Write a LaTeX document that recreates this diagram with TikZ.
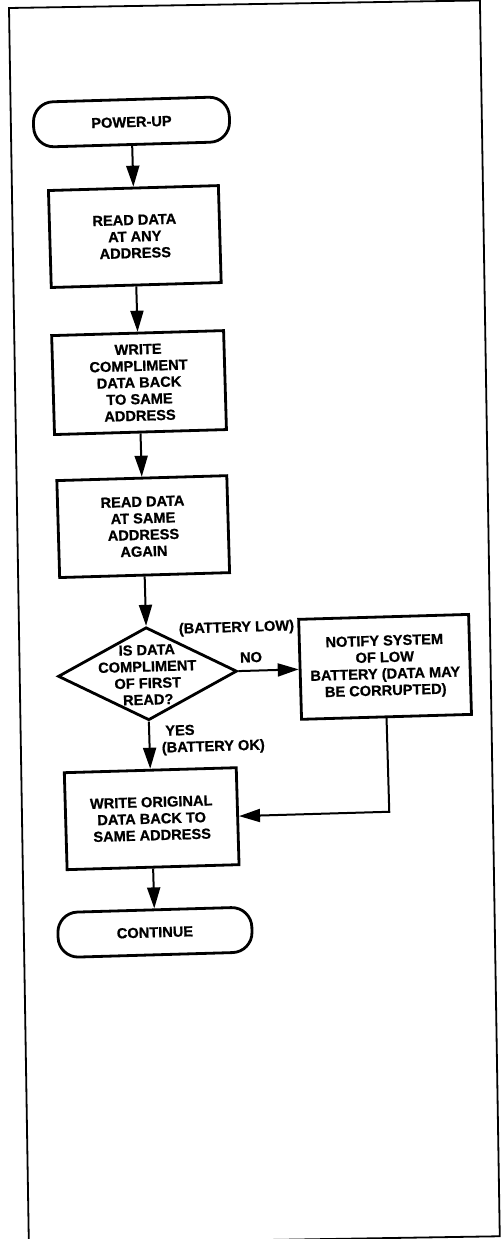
\documentclass[tikz,border=0pt]{standalone}
\usepackage{fontspec}
\setmainfont{Liberation Sans}
\newfontfamily\heavyfont[FakeBold=0.8]{Liberation Sans}
\usetikzlibrary{arrows.meta,shapes.geometric}
\begin{document}
\begin{tikzpicture}[x=1pt,y=1pt,
  every node/.style={font=\heavyfont\bfseries\fontsize{14.6}{16.6}\selectfont, align=center, inner sep=0pt, transform shape},
  proc/.style={draw, line width=2.8pt},
  term/.style={draw, line width=2.8pt, rounded corners=20pt, minimum width=196pt, minimum height=45pt},
  dia/.style={draw, diamond, line width=2.8pt, minimum width=179pt, minimum height=93pt},
  arr/.style={line width=2pt, -{Triangle[length=21pt,width=13pt]}},
  frame/.style={line width=1.8pt}
]
\useasboundingbox (0,0) rectangle (502,-1239);
\clip (0,0) rectangle (502,-1239);
% outer frame (slightly skewed scan)
\begin{scope}[shift={(9,-8)}, rotate=0.92]
  \draw[frame] (0,0) rectangle (471,-1236);
\end{scope}
% flowchart
\begin{scope}[shift={(131.5,-122)}, rotate=1.66]
  \node[term] (pu) at (0,0) {POWER-UP};
  \node[proc, minimum width=170pt, minimum height=97pt] (b1) at (0,-114.6) {READ DATA\\AT ANY\\ADDRESS};
  \node[proc, minimum width=172pt, minimum height=99pt] (b2) at (0,-260.7) {WRITE\\COMPLIMENT\\DATA BACK\\TO SAME\\ADDRESS};
  \node[proc, minimum width=170pt, minimum height=97pt] (b3) at (0,-404.8) {READ DATA\\AT SAME\\ADDRESS\\AGAIN};
  \node[dia] (dec) at (0,-552) {};
  \node (dect) at (0,-553) {IS DATA\\COMPLIMENT\\OF FIRST\\READ?};
  \node[proc, minimum width=170pt, minimum height=100pt] (nt) at (237.7,-552) {NOTIFY SYSTEM\\OF LOW\\BATTERY (DATA MAY\\BE CORRUPTED)};
  \node[proc, minimum width=172pt, minimum height=97pt] (b5) at (0,-697) {WRITE ORIGINAL\\DATA BACK TO\\SAME ADDRESS};
  \node[term, minimum width=194pt] (cont) at (0,-810.7) {CONTINUE};
  \node (bl) at (90.3,-509) {(BATTERY LOW)};
  \node (no) at (104,-538.5) {NO};
  \node[anchor=west] (yes) at (16,-609.4) {YES};
  \node[anchor=west] (bok) at (12,-627.4) {(BATTERY OK)};
  \coordinate (bend) at (237.7,-697);
  \draw[arr] (pu.south) -- (b1.north);
  \draw[arr] (b1.south) -- (b2.north);
  \draw[arr] (b2.south) -- (b3.north);
  \draw[arr] (b3.south) -- (dec.north);
  \draw[arr] (dec.east) -- (nt.west);
  \draw[arr] (dec.south) -- (b5.north);
  \draw[arr] (nt.south) -- (bend) -- (b5.east);
  \draw[arr] (b5.south) -- (cont.north);
\end{scope}
\end{tikzpicture}
\end{document}
